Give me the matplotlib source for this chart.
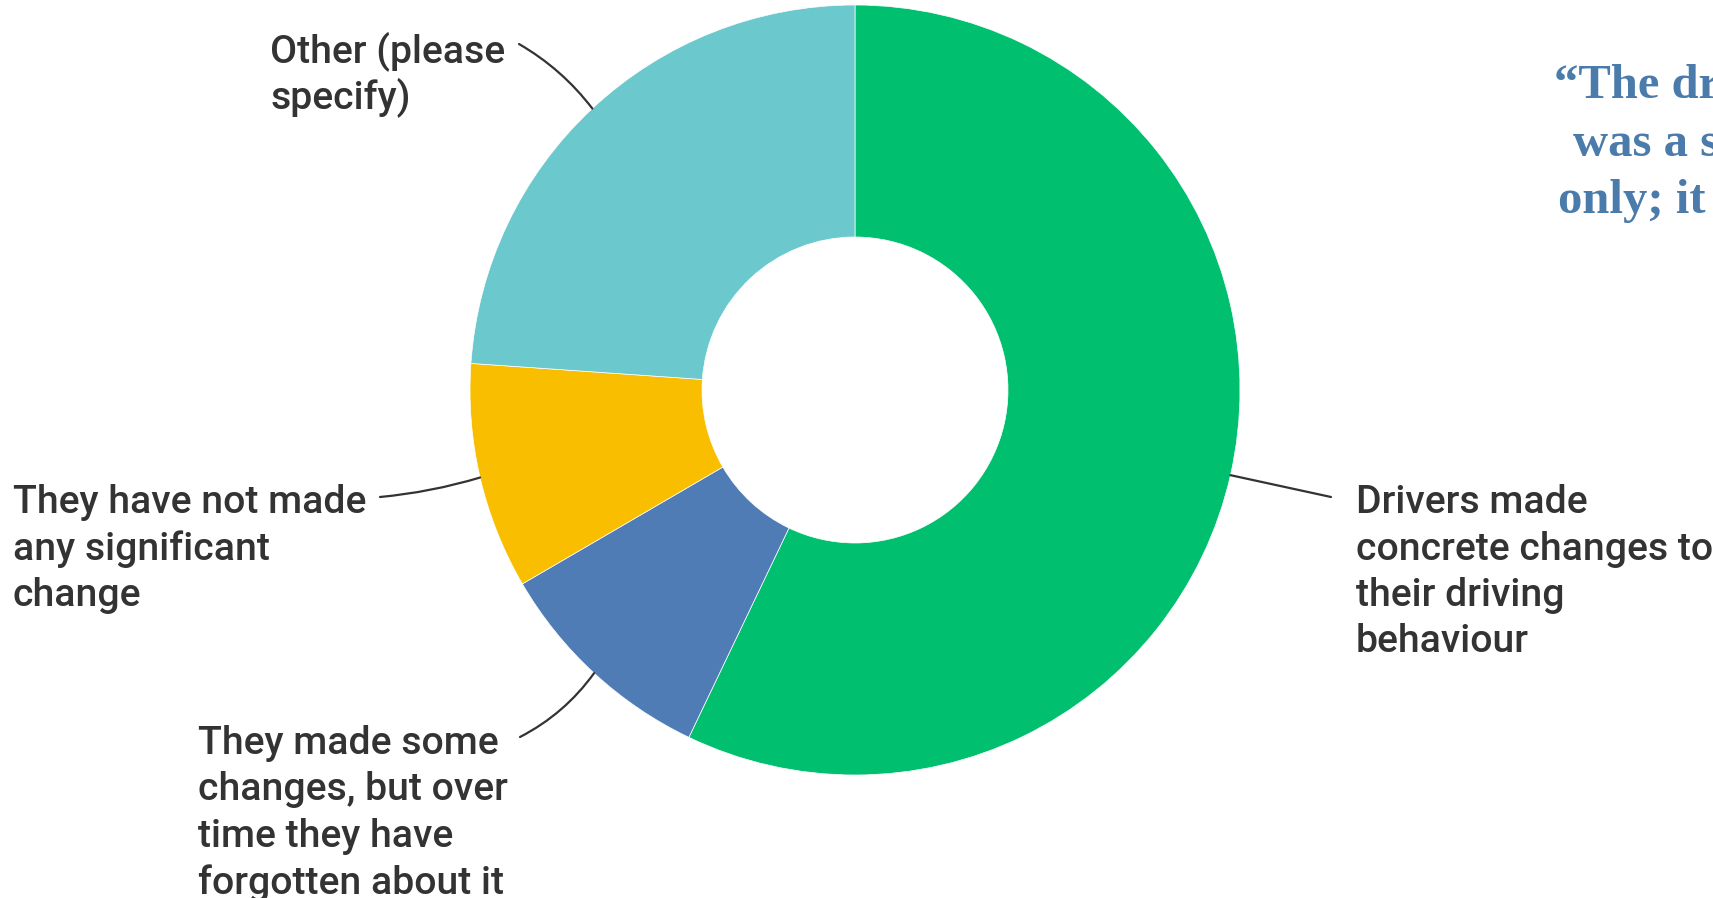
import numpy as np
import matplotlib.pyplot as plt

# --------------------------------------------------------------------------
# data (share of answers, read off the donut, clockwise from 12 o'clock)
# --------------------------------------------------------------------------
categories = [
    "Drivers made\nconcrete changes to\ntheir driving\nbehaviour",
    "They made some\nchanges, but over\ntime they have\nforgotten about it",
    "They have not made\nany significant\nchange",
    "Other (please\nspecify)",
]
shares = [57.1, 9.5, 9.5, 23.9]
colors = ["#00BF6F", "#507CB6", "#F9BE00", "#6BC8CD"]

quote_lines = ["\u201cThe dr", "was a s", "only; it"]

# --------------------------------------------------------------------------
# layout (pixel coords, origin bottom-left)
# --------------------------------------------------------------------------
W, H = 1713, 898
CX, CY = 855, H - 390
R_OUT, R_IN = 385, 153

# text anchor (x of left edge, baseline of first line) and leader end point
label_pos = [
    ((1356, H - 513), (1331, H - 497)),
    ((198, H - 754), (520, H - 737)),
    ((13, H - 513), (380, H - 497)),
    ((270, H - 62), (519, H - 44)),
]
label_rad = [0.0, 0.12, 0.05, -0.1]
LINE_STEP = 46.5
TEXT_COLOR = "#333333"

fig = plt.figure(figsize=(W / 100, H / 100), dpi=100)
ax = fig.add_axes([0, 0, 1, 1])
ax.set_xlim(0, W)
ax.set_ylim(0, H)
ax.set_aspect("equal")
ax.axis("off")

wedges, _ = ax.pie(shares, colors=colors, startangle=90, counterclock=False,
                   center=(CX, CY), radius=R_OUT,
                   wedgeprops=dict(width=R_OUT - R_IN, linewidth=0.5,
                                   edgecolor="white"))
ax.set_xlim(0, W)
ax.set_ylim(0, H)

for w, label, (txt_xy, end_xy), rad in zip(wedges, categories, label_pos, label_rad):
    mid = np.deg2rad((w.theta1 + w.theta2) / 2)
    edge = (CX + R_OUT * np.cos(mid), CY + R_OUT * np.sin(mid))
    ax.annotate("", xy=edge, xytext=end_xy,
                arrowprops=dict(arrowstyle="-", color="#333333", lw=1.6,
                                shrinkA=0, shrinkB=0,
                                connectionstyle=f"arc3,rad={rad}"))
    x0, y0 = txt_xy
    for i, line in enumerate(label.split("\n")):
        ax.text(x0, y0 - i * LINE_STEP, line, ha="left", va="baseline",
                fontsize=28.2, fontfamily="Roboto", fontweight="medium",
                color=TEXT_COLOR)

# quote on the right, cut by the image edge
quote_x = [1554, 1573, 1558]
for i, (qx, line) in enumerate(zip(quote_x, quote_lines)):
    ax.text(qx, H - 98 - i * 57.5, line, ha="left", va="baseline",
            fontsize=35, fontfamily="Liberation Serif", fontweight="bold",
            color="#4A7BAA")

plt.savefig("out.png", dpi=100)
